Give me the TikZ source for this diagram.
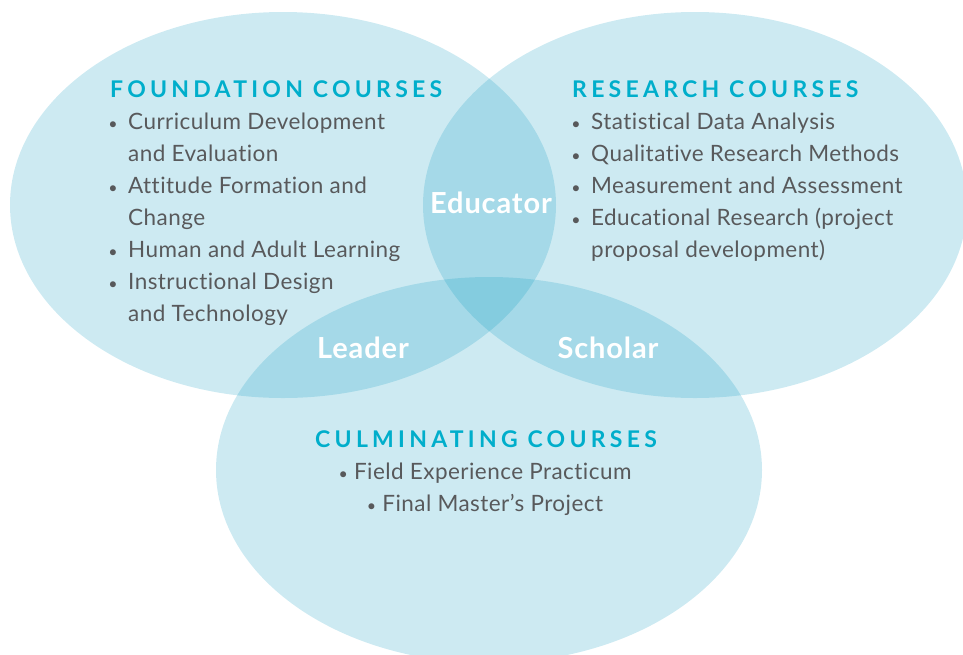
\documentclass[tikz,border=0pt]{standalone}
\usepackage{fontspec}
\setmainfont{Lato}
\newfontfamily\headfont[LetterSpace=18.5]{Lato}
\newfontfamily\itemfont[LetterSpace=2,Ligatures=NoCommon]{Lato}
\newfontfamily\labelfont[LetterSpace=3]{Lato}

\newlength{\du}
\setlength{\du}{1pt}

\definecolor{vennfill}{RGB}{5,150,190}
\definecolor{headcolor}{RGB}{0,174,203}
\definecolor{itemcolor}{RGB}{88,89,91}

\tikzset{
  courseset/.style={fill=vennfill, fill opacity=0.2},
  heading/.style={anchor=base west, inner sep=0pt, text=headcolor,
    font=\headfont\bfseries\fontsize{23}{23}\selectfont},
  courseitem/.style={anchor=base west, inner sep=0pt, text=itemcolor,
    font=\itemfont\fontsize{22.5}{22.5}\selectfont},
  itembullet/.style={anchor=base, inner sep=0pt, text=itemcolor,
    font=\fontsize{16}{16}\selectfont},
  rolelabel/.style={anchor=base, inner sep=0pt, text=white,
    font=\labelfont\bfseries\fontsize{29}{29}\selectfont},
}

\begin{document}
\begin{tikzpicture}
\pgftransformyscale{-1.000000}
\useasboundingbox (0\du,0\du) rectangle (963\du,654\du);
\clip (0\du,0\du) rectangle (963\du,654\du);
% the three sets
\fill[courseset] (283\du,205\du) ellipse [x radius=273\du, y radius=193\du];
\fill[courseset] (695\du,205\du) ellipse [x radius=272\du, y radius=193\du];
\fill[courseset] (489\du,470\du) ellipse [x radius=273\du, y radius=193\du];
% foundation
\node[heading] (fndhead) at (110\du,97\du) {FOUNDATION COURSES};
\node[itembullet] (fndb1) at (113\du,129\du) {•};
\node[courseitem] (fnd1) at (128\du,129\du) {Curriculum Development};
\node[courseitem] (fnd1b) at (128\du,161\du) {and Evaluation};
\node[itembullet] (fndb2) at (113\du,193\du) {•};
\node[courseitem] (fnd2) at (128\du,193\du) {Attitude Formation and};
\node[courseitem] (fnd2b) at (128\du,225\du) {Change};
\node[itembullet] (fndb3) at (113\du,257\du) {•};
\node[courseitem] (fnd3) at (128\du,257\du) {Human and Adult Learning};
\node[itembullet] (fndb4) at (113\du,289\du) {•};
\node[courseitem] (fnd4) at (128\du,289\du) {Instructional Design};
\node[courseitem] (fnd4b) at (128\du,321\du) {and Technology};
% research
\node[heading] (reshead) at (572\du,97\du) {RESEARCH COURSES};
\node[itembullet] (resb1) at (576\du,129\du) {•};
\node[courseitem] (res1) at (591\du,129\du) {Statistical Data Analysis};
\node[itembullet] (resb2) at (576\du,161\du) {•};
\node[courseitem] (res2) at (591\du,161\du) {Qualitative Research Methods};
\node[itembullet] (resb3) at (576\du,193\du) {•};
\node[courseitem] (res3) at (591\du,193\du) {Measurement and Assessment};
\node[itembullet] (resb4) at (576\du,225\du) {•};
\node[courseitem] (res4) at (591\du,225\du) {Educational Research (project};
\node[courseitem] (res4b) at (591\du,257\du) {proposal development)};
% culminating
\node[heading, anchor=base] (culhead) at (486\du,447\du) {CULMINATING COURSES};
\node[courseitem, anchor=base] (cul1) at (485\du,479\du) {{\fontsize{16}{16}\selectfont•} Field Experience Practicum};
\node[courseitem, anchor=base] (cul2) at (485\du,511\du) {{\fontsize{16}{16}\selectfont•} Final Master’s Project};
% overlaps
\node[rolelabel] (educator) at (491\du,213\du) {Educator};
\node[rolelabel] (leader) at (363\du,358\du) {Leader};
\node[rolelabel] (scholar) at (608\du,358\du) {Scholar};
\end{tikzpicture}
\end{document}
